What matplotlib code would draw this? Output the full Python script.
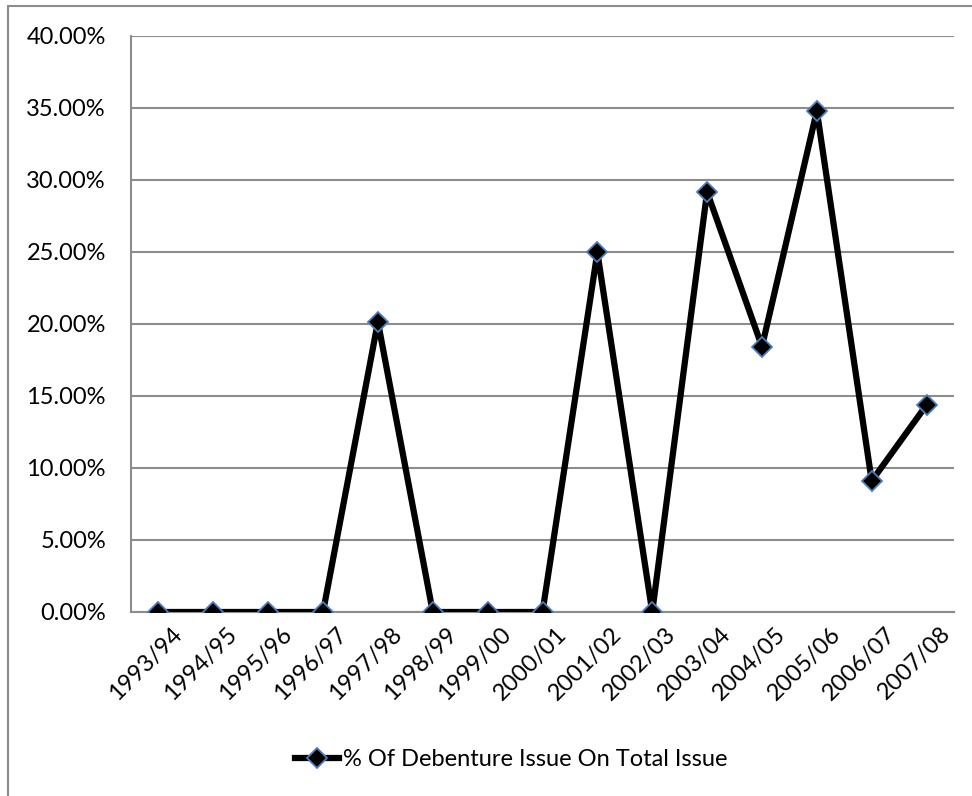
import matplotlib
matplotlib.use("Agg")
import matplotlib.pyplot as plt
from matplotlib.patches import Rectangle
from matplotlib.ticker import FuncFormatter, MultipleLocator
from matplotlib.transforms import ScaledTranslation

plt.rcParams['font.family'] = ['Lato', 'DejaVu Sans']

years = ["1993/94", "1994/95", "1995/96", "1996/97", "1997/98", "1998/99",
         "1999/00", "2000/01", "2001/02", "2002/03", "2003/04", "2004/05",
         "2005/06", "2006/07", "2007/08"]
debenture_pct = [0.0, 0.0, 0.0, 0.0, 20.15, 0.0, 0.0, 0.0, 24.97, 0.0,
                 29.17, 18.43, 34.80, 9.10, 14.38]
series_name = "% Of Debenture Issue On Total Issue"

W, H, DPI = 972, 796, 100
FS = 17
fig = plt.figure(figsize=(W / DPI, H / DPI), dpi=DPI)
fig.patch.set_facecolor("white")

# outer chart frame
fig.add_artist(Rectangle((8 / W, -0.05), 1.2, 1 - 6 / H + 0.05,
                         transform=fig.transFigure, fill=False,
                         edgecolor="#8c8c8c", linewidth=1.5))

ax = fig.add_axes([131 / W, 1 - 612 / H, (954 - 131) / W, (612 - 36) / H])

x = range(len(years))
ax.plot(x, debenture_pct, color="black", linewidth=4.5,
        marker="D", markersize=10.5, markerfacecolor="black",
        markeredgecolor="#4a7ebb", markeredgewidth=1.3,
        label=series_name, solid_joinstyle="round", zorder=3)

ax.set_xlim(-0.5, len(years) - 0.5)
ax.set_ylim(0, 40)
ax.yaxis.set_major_locator(MultipleLocator(5))
ax.yaxis.set_major_formatter(FuncFormatter(lambda v, p: f"{v:.2f}%"))
ax.grid(axis="y", color="#8c8c8c", linewidth=1.5, zorder=0)
ax.set_axisbelow(True)

ax.set_xticks(list(x))
ax.set_xticklabels(years, rotation=45, ha="right", rotation_mode="anchor")
ax.tick_params(axis="both", length=0, labelsize=FS, colors="black")
ax.tick_params(axis="y", pad=18)
ax.tick_params(axis="x", pad=8)
shift = ScaledTranslation(13 / DPI, 0, fig.dpi_scale_trans)
for lbl in ax.get_xticklabels():
    lbl.set_transform(lbl.get_transform() + shift)

for side in ("top", "right"):
    ax.spines[side].set_visible(False)
for side in ("left", "bottom"):
    ax.spines[side].set_color("#8c8c8c")
    ax.spines[side].set_linewidth(1.5)

fig.legend(loc="center", bbox_to_anchor=(511 / W, 1 - 760 / H), frameon=False,
           fontsize=FS, handlelength=1.9, handletextpad=0.15)

fig.savefig("out.png", dpi=DPI)
